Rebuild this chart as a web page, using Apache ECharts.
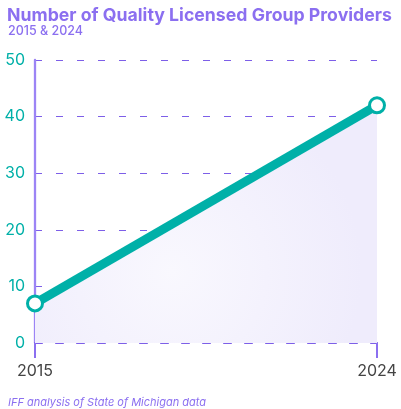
<!DOCTYPE html>
<html><head><meta charset="utf-8">
<script src="https://cdn.jsdelivr.net/npm/echarts@6/dist/echarts.min.js"></script>
<style>html,body{margin:0;padding:0;background:#fff}#c{width:401px;height:409px}</style>
</head><body><div id="c"></div>
<script>
var categories = ['2015', '2024'];
var providers = [7, 42];
var yTicks = [0, 10, 20, 30, 40, 50];

var purple = '#8b6ff0';
var teal = '#00b0a8';
var chart = echarts.init(document.getElementById('c'), null, {renderer: 'canvas'});
chart.setOption({
  animation: false,
  backgroundColor: '#fff',
  title: [
    {text: 'Number of Quality Licensed Group Providers', left: 2, top: 2,
     textStyle: {fontFamily: 'Inter', fontWeight: 'bold', fontSize: 17.7, color: purple}},
    {text: '2015 & 2024', left: 3, top: 20,
     textStyle: {fontFamily: 'Inter', fontWeight: 500, fontSize: 12.5, color: purple}},
    {text: 'IFF analysis of State of Michigan data', left: 3, top: 392,
     textStyle: {fontFamily: 'Inter', fontStyle: 'italic', fontWeight: 'normal', fontSize: 11, color: purple}}
  ],
  grid: {left: 35, right: 24, top: 60, bottom: 66, containLabel: false},
  xAxis: {
    type: 'category', data: categories, boundaryGap: false,
    axisLine: {show: true, lineStyle: {color: '#7d5fe8', width: 2.2, type: [7, 14]}},
    axisTick: {show: true, alignWithLabel: true, length: 15, lineStyle: {color: purple, width: 2}},
    axisLabel: {color: '#444', fontFamily: 'Inter', fontSize: 16, margin: 20},
    splitLine: {show: false}
  },
  yAxis: {
    type: 'value', min: yTicks[0], max: yTicks[yTicks.length - 1], interval: 10,
    axisLine: {show: true, lineStyle: {color: '#9c84f5', width: 2.3}},
    axisTick: {show: false},
    axisLabel: {color: teal, fontFamily: 'Inter', fontSize: 16, margin: 10},
    splitLine: {show: true, lineStyle: {color: '#7d5fe8', width: 1.2, type: [7, 14]}}
  },
  series: [{
    type: 'line', data: providers, z: 3,
    lineStyle: {color: teal, width: 9},
    symbol: 'circle', symbolSize: 15,
    itemStyle: {color: '#fff', borderColor: teal, borderWidth: 3},
    areaStyle: {
      color: {type: 'radial', x: 0.4, y: 0.7, r: 0.8,
        colorStops: [{offset: 0, color: '#f9f8fe'}, {offset: 1, color: '#efecfc'}]},
      opacity: 1
    }
  }]
});
</script></body></html>
